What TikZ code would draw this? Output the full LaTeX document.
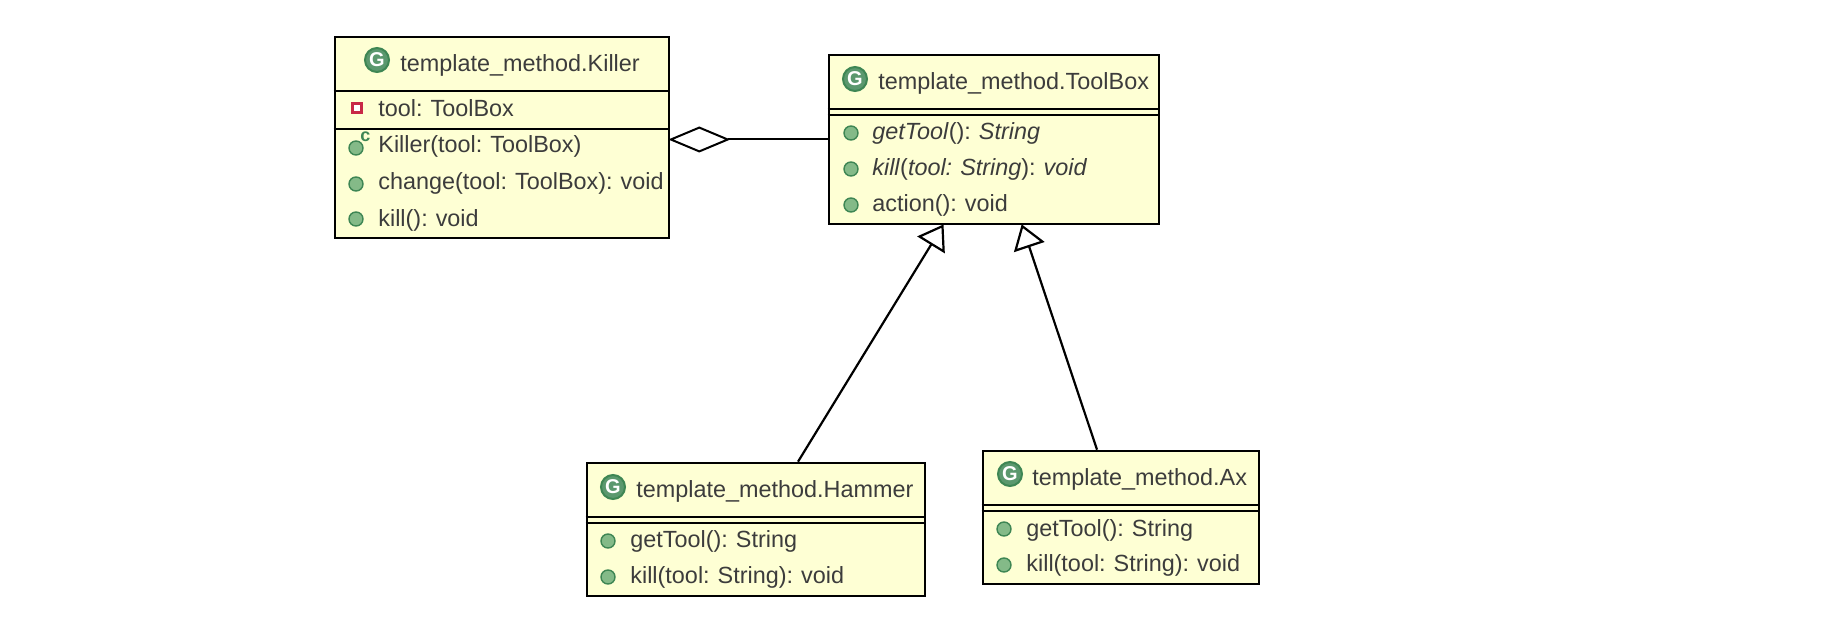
\documentclass[tikz,border=0pt]{standalone}
\usepackage{fontspec}
\setmainfont[WordSpace=0.9]{Liberation Sans}
\usepackage{tikz}
\usetikzlibrary{arrows.meta,positioning}
\definecolor{myyellow}{RGB}{254,255,212}
\definecolor{mytext}{RGB}{60,60,60}
\definecolor{mygreen}{RGB}{132,186,136}
\definecolor{mydark}{RGB}{62,134,84}
\definecolor{myred}{RGB}{200,40,70}

\begin{document}
\begin{tikzpicture}[x=0.5pt,y=-0.5pt,every node/.style={font=\fontsize{11.7}{14}\selectfont}]
\tikzstyle{cls}=[draw=black,line width=1.3pt,fill=myyellow,inner sep=0pt]
\tikzstyle{sep}=[draw=black,line width=1pt]
\tikzstyle{txt}=[anchor=base west,inner sep=0pt,text=mytext]
\tikzstyle{ic}=[circle,draw=mydark,line width=1pt,fill=mydark!85,text=white,minimum size=12pt,inner sep=0pt,font=\fontsize{10}{10}\bfseries\selectfont]
\tikzstyle{dot}=[circle,draw=mydark,line width=.7pt,fill=mygreen,minimum size=7pt,inner sep=0pt]
\tikzstyle{sq}=[rectangle,draw=myred,line width=1.3pt,fill=white,minimum size=4.5pt,inner sep=0pt]
\tikzstyle{inh}=[-{Triangle[open,length=12pt,width=16pt,fill=white]},black,line width=1.1pt,shorten >=-.5pt]
\tikzstyle{agg}=[-{Diamond[open,length=31pt,width=13pt,fill=white]},black,line width=1pt,shorten >=-1pt]
\useasboundingbox (0,0) rectangle (1826,642);
% classes
\node[cls,minimum width=167pt,minimum height=100.5pt](killer) at (502,137.5){};
\node[cls,minimum width=165pt,minimum height=84.5pt](toolbox) at (994,139.5){};
\node[cls,minimum width=169pt,minimum height=66.5pt](hammer) at (756,529.5){};
\node[cls,minimum width=138pt,minimum height=66.5pt](ax) at (1121,517.5){};
% separators
\draw[sep](killer.west |- 0,91)--(killer.east |- 0,91);
\draw[sep](killer.west |- 0,129)--(killer.east |- 0,129);
\draw[sep](toolbox.west |- 0,109)--(toolbox.east |- 0,109);
\draw[sep](toolbox.west |- 0,115)--(toolbox.east |- 0,115);
\draw[sep](hammer.west |- 0,517)--(hammer.east |- 0,517);
\draw[sep](hammer.west |- 0,523)--(hammer.east |- 0,523);
\draw[sep](ax.west |- 0,505)--(ax.east |- 0,505);
\draw[sep](ax.west |- 0,511)--(ax.east |- 0,511);
% Killer
\node[ic](kic) at (377,60){G};
\node[txt](kt) at (400,72){template\_method.Killer};
\node[sq](kq) at (357,108){};
\node[txt](k1) at (378,117){tool: ToolBox};
\node[dot](kd2) at (356,148){};
\node[txt,text=mydark,font=\fontsize{9}{9}\bfseries\selectfont](kc) at (360,141){c};
\node[txt](k2) at (378,153){Killer(tool: ToolBox)};
\node[dot](kd3) at (356,184){};
\node[txt](k3) at (378,190){change(tool: ToolBox): void};
\node[dot](kd4) at (356,219){};
\node[txt](k4) at (378,226){kill(): void};
% ToolBox
\node[ic](tic) at (855,79){G};
\node[txt](tt) at (878,90){template\_method.ToolBox};
\node[dot](td1) at (851,133){};
\node[txt](t1) at (872,140){\textit{getTool}(): \textit{String}};
\node[dot](td2) at (851,169){};
\node[txt](t2) at (872,176){\textit{kill}(\textit{tool: String}): \textit{void}};
\node[dot](td3) at (851,205){};
\node[txt](t3) at (872,212){action(): void};
% Hammer
\node[ic](hic) at (613,487){G};
\node[txt](ht) at (636,497){template\_method.Hammer};
\node[dot](hd1) at (608,541){};
\node[txt](h1) at (630,547){getTool(): String};
\node[dot](hd2) at (608,577){};
\node[txt](h2) at (630,583){kill(tool: String): void};
% Ax
\node[ic](aic) at (1010,474){G};
\node[txt](at) at (1032,485){template\_method.Ax};
\node[dot](ad1) at (1004,529){};
\node[txt](a1) at (1026,536){getTool(): String};
\node[dot](ad2) at (1004,565){};
\node[txt](a2) at (1026,571){kill(tool: String): void};
% relations
\draw[agg](toolbox.west)--(toolbox.west -| killer.east);
\draw[inh]([xshift=21pt]hammer.north)--([xshift=-25.5pt]toolbox.south);
\draw[inh]([xshift=-12pt]ax.north)--([xshift=14pt]toolbox.south);
\end{tikzpicture}
\end{document}
